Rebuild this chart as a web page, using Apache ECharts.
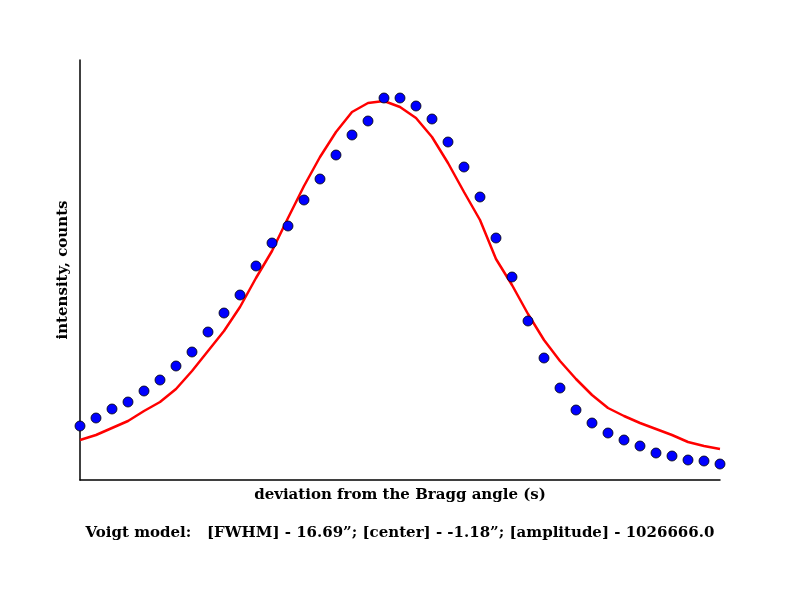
<!DOCTYPE html>
<html>
<head>
<meta charset="utf-8">
<script src="https://cdn.jsdelivr.net/npm/echarts@6/dist/echarts.min.js"></script>
<style>
html,body{margin:0;padding:0;background:#fff;}
#main{width:800px;height:600px;}
</style>
</head>
<body>
<div id="main"></div>
<script>
// deviation from the Bragg angle, seconds
var angles = [];
for (var a = -20; a <= 20; a++) angles.push(a);

// measured intensity (counts)
var measured = [5400, 6200, 7100, 7800, 8900, 10000, 11400, 12800, 14800, 16700,
    18500, 21400, 23700, 25400, 28000, 30100, 32500, 34500, 35900, 38200,
    38200, 37400, 36100, 33800, 31300, 28300, 24200, 20300, 15900, 12200,
    9200, 7000, 5700, 4700, 4000, 3400, 2700, 2400, 2000, 1900, 1600];

// Voigt fit
var fitted = [4000, 4500, 5200, 5900, 6900, 7800, 9100, 10900, 12900, 14900,
    17300, 20200, 22900, 26200, 29400, 32300, 34800, 36800, 37700, 37900,
    37300, 36200, 34300, 31700, 28800, 26000, 22100, 19500, 16600, 14000,
    11900, 10100, 8500, 7200, 6400, 5700, 5100, 4500, 3800, 3400, 3100];

var caption = 'Voigt model:   [FWHM] - 16.69\u201d; [center] - -1.18\u201d; [amplitude] - 1026666.0';

var chart = echarts.init(document.getElementById('main'));
var font = '"DejaVu Serif", serif';

var pts = [], fit = [];
for (var i = 0; i < angles.length; i++) {
    pts.push([angles[i], measured[i]]);
    fit.push([angles[i], fitted[i]]);
}

var option = {
    backgroundColor: '#fff',
    animation: false,
    title: {
        text: caption,
        left: 'center',
        top: 521,
        textStyle: {fontFamily: font, fontWeight: 'bold', fontSize: 15, color: '#000'}
    },
    grid: {left: 80, right: 80, top: 60, bottom: 120},
    xAxis: {
        type: 'value',
        min: -20,
        max: 20,
        name: 'deviation from the Bragg angle (s)',
        nameLocation: 'middle',
        nameGap: 8,
        nameTextStyle: {fontFamily: font, fontWeight: 'bold', fontSize: 15, color: '#000'},
        axisLine: {show: true, onZero: false, lineStyle: {color: '#000', width: 1.5}},
        axisTick: {show: false},
        axisLabel: {show: false},
        splitLine: {show: false}
    },
    yAxis: {
        type: 'value',
        min: 0,
        max: 42000,
        name: 'intensity, counts',
        nameLocation: 'middle',
        nameGap: 9,
        nameTextStyle: {fontFamily: font, fontWeight: 'bold', fontSize: 15, color: '#000'},
        axisLine: {show: true, onZero: false, lineStyle: {color: '#000', width: 1.5}},
        axisTick: {show: false},
        axisLabel: {show: false},
        splitLine: {show: false}
    },
    series: [
        {
            name: 'fit',
            type: 'line',
            data: fit,
            symbol: 'none',
            lineStyle: {color: '#ff0000', width: 2.5},
            z: 2
        },
        {
            name: 'data',
            type: 'scatter',
            data: pts,
            symbol: 'circle',
            symbolSize: 10,
            itemStyle: {color: '#0000ff', opacity: 1, borderColor: '#000', borderWidth: 0.8},
            z: 3
        }
    ]
};
chart.setOption(option);
</script>
</body>
</html>
